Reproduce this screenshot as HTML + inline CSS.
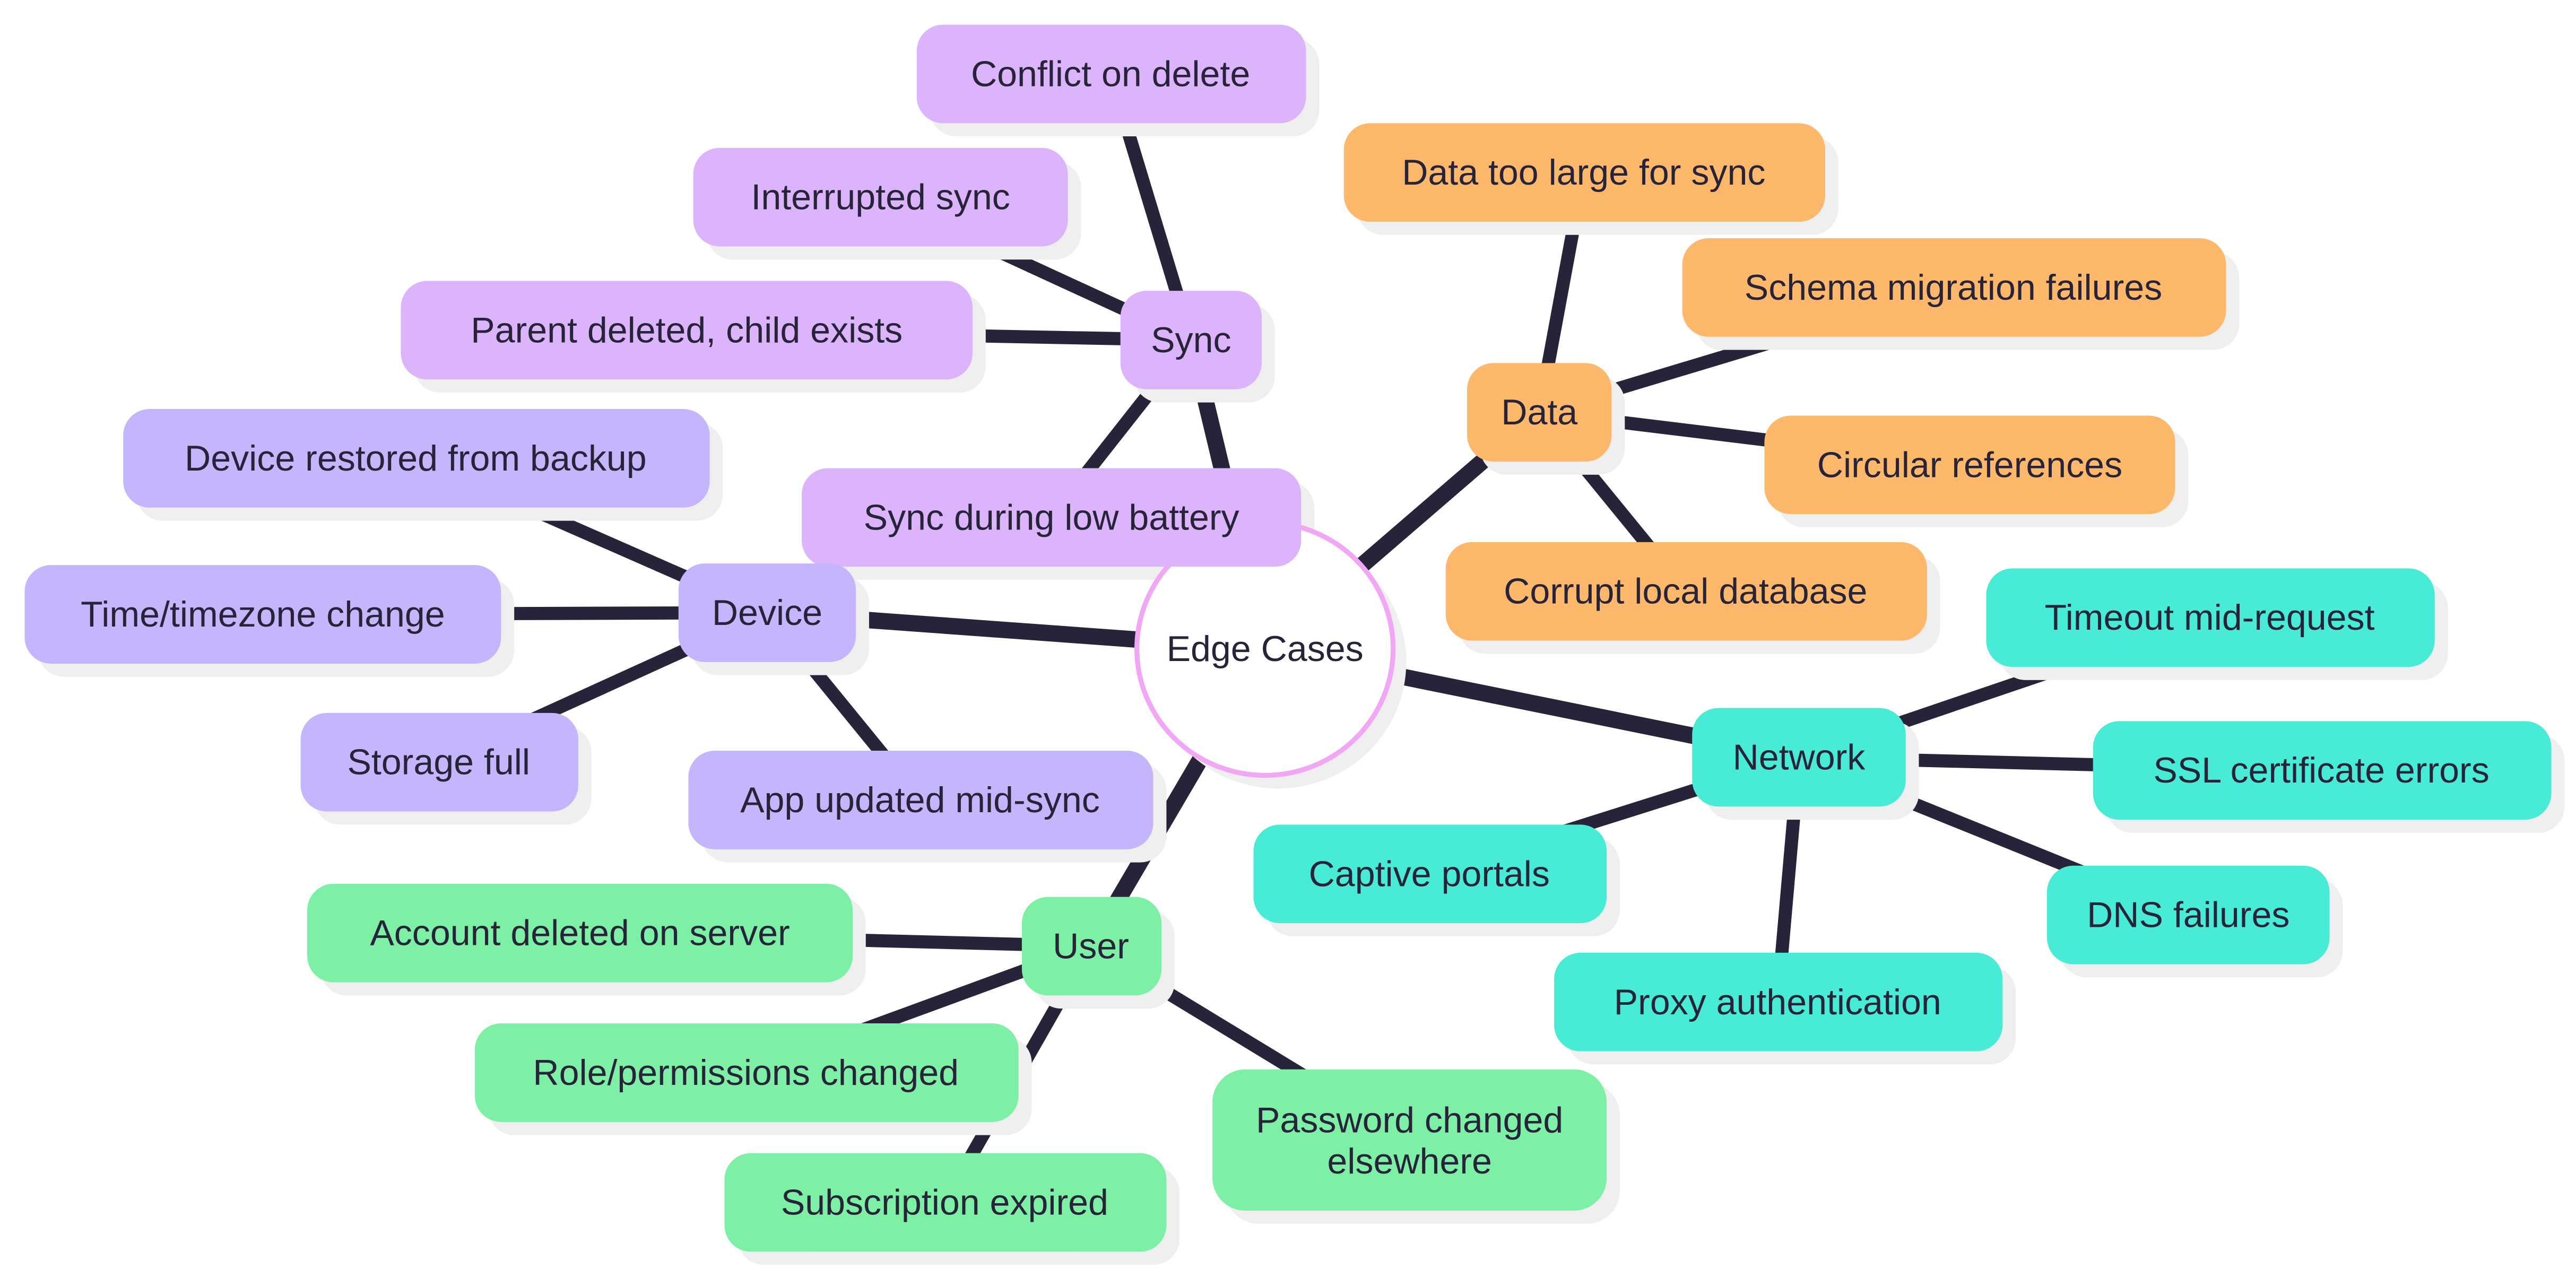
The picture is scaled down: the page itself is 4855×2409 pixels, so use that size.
<!DOCTYPE html>
<html><head><meta charset="utf-8"><style>
html,body{margin:0;padding:0;background:#fff;}
svg{display:block;}
text{font-family:"Liberation Sans",sans-serif;font-size:22px;fill:#272338;text-anchor:middle;dominant-baseline:central;}
</style></head><body>
<svg width="4855" height="2409" viewBox="0 0 1568 778" xmlns="http://www.w3.org/2000/svg">
<rect width="1568" height="778" fill="#fff"/>
<g stroke="#272338" stroke-linecap="butt">
<g stroke-width="10">
<line x1="770" y1="395" x2="725" y2="207"/>
<line x1="770" y1="395" x2="937" y2="251"/>
<line x1="770" y1="395" x2="467" y2="373"/>
<line x1="770" y1="395" x2="1095" y2="461"/>
<line x1="770" y1="395" x2="664" y2="576"/>
</g>
<g stroke-width="8">
<line x1="725" y1="207" x2="676" y2="45"/>
<line x1="725" y1="207" x2="536" y2="120"/>
<line x1="725" y1="207" x2="418" y2="201"/>
<line x1="725" y1="207" x2="640" y2="315"/>
<line x1="937" y1="251" x2="964" y2="105"/>
<line x1="937" y1="251" x2="1189" y2="175"/>
<line x1="937" y1="251" x2="1199" y2="283"/>
<line x1="937" y1="251" x2="1026" y2="360"/>
<line x1="467" y1="373" x2="253" y2="279"/>
<line x1="467" y1="373" x2="160" y2="374"/>
<line x1="467" y1="373" x2="267" y2="464"/>
<line x1="467" y1="373" x2="560" y2="487"/>
<line x1="1095" y1="461" x2="1345" y2="376"/>
<line x1="1095" y1="461" x2="1413" y2="469"/>
<line x1="1095" y1="461" x2="1332" y2="557"/>
<line x1="1095" y1="461" x2="1082" y2="610"/>
<line x1="1095" y1="461" x2="870" y2="532"/>
<line x1="664" y1="576" x2="353" y2="568"/>
<line x1="664" y1="576" x2="454" y2="653"/>
<line x1="664" y1="576" x2="575" y2="732"/>
<line x1="664" y1="576" x2="858" y2="694"/>
</g>
</g>
<!-- shadows -->
<g fill="#efefef">
<ellipse cx="778" cy="403" rx="78" ry="77"/>
<rect x="690" y="185" width="86" height="60" rx="16"/>
<rect x="566" y="23" width="237" height="60" rx="16"/>
<rect x="430" y="98" width="228" height="60" rx="16"/>
<rect x="252" y="179" width="348" height="60" rx="16"/>
<rect x="496" y="293" width="304" height="60" rx="16"/>
<rect x="421" y="351" width="108" height="60" rx="16"/>
<rect x="83" y="257" width="357" height="60" rx="16"/>
<rect x="23" y="352" width="290" height="60" rx="16"/>
<rect x="191" y="442" width="169" height="60" rx="16"/>
<rect x="427" y="465" width="283" height="60" rx="16"/>
<rect x="901" y="229" width="88" height="60" rx="16"/>
<rect x="826" y="83" width="293" height="60" rx="16"/>
<rect x="1032" y="153" width="331" height="60" rx="16"/>
<rect x="1082" y="261" width="250" height="60" rx="16"/>
<rect x="888" y="338" width="293" height="60" rx="16"/>
<rect x="1038" y="439" width="130" height="60" rx="16"/>
<rect x="1217" y="354" width="273" height="60" rx="16"/>
<rect x="1282" y="447" width="279" height="60" rx="16"/>
<rect x="1254" y="535" width="172" height="60" rx="16"/>
<rect x="954" y="588" width="273" height="60" rx="16"/>
<rect x="771" y="510" width="215" height="60" rx="16"/>
<rect x="630" y="554" width="85" height="60" rx="16"/>
<rect x="195" y="546" width="332" height="60" rx="16"/>
<rect x="297" y="631" width="331" height="60" rx="16"/>
<rect x="449" y="710" width="269" height="60" rx="16"/>
<rect x="746" y="659" width="240" height="86" rx="20"/>
</g>
<ellipse cx="770" cy="395" rx="78" ry="77" fill="#fff" stroke="#f0a8f5" stroke-width="3"/>
<text x="770" y="395">Edge Cases</text>
<g fill="#dcb4fb">
<rect x="682" y="177" width="86" height="60" rx="16"/>
<rect x="558" y="15" width="237" height="60" rx="16"/>
<rect x="422" y="90" width="228" height="60" rx="16"/>
<rect x="244" y="171" width="348" height="60" rx="16"/>
<rect x="488" y="285" width="304" height="60" rx="16"/>
</g>
<g fill="#c4b5fd">
<rect x="413" y="343" width="108" height="60" rx="16"/>
<rect x="75" y="249" width="357" height="60" rx="16"/>
<rect x="15" y="344" width="290" height="60" rx="16"/>
<rect x="183" y="434" width="169" height="60" rx="16"/>
<rect x="419" y="457" width="283" height="60" rx="16"/>
</g>
<g fill="#fdb86b">
<rect x="893" y="221" width="88" height="60" rx="16"/>
<rect x="818" y="75" width="293" height="60" rx="16"/>
<rect x="1024" y="145" width="331" height="60" rx="16"/>
<rect x="1074" y="253" width="250" height="60" rx="16"/>
<rect x="880" y="330" width="293" height="60" rx="16"/>
</g>
<g fill="#48ebd5">
<rect x="1030" y="431" width="130" height="60" rx="16"/>
<rect x="1209" y="346" width="273" height="60" rx="16"/>
<rect x="1274" y="439" width="279" height="60" rx="16"/>
<rect x="1246" y="527" width="172" height="60" rx="16"/>
<rect x="946" y="580" width="273" height="60" rx="16"/>
<rect x="763" y="502" width="215" height="60" rx="16"/>
</g>
<g fill="#7df0a6">
<rect x="622" y="546" width="85" height="60" rx="16"/>
<rect x="187" y="538" width="332" height="60" rx="16"/>
<rect x="289" y="623" width="331" height="60" rx="16"/>
<rect x="441" y="702" width="269" height="60" rx="16"/>
<rect x="738" y="651" width="240" height="86" rx="20"/>
</g>
<text x="725" y="207">Sync</text>
<text x="676" y="45">Conflict on delete</text>
<text x="536" y="120">Interrupted sync</text>
<text x="418" y="201">Parent deleted, child exists</text>
<text x="640" y="315">Sync during low battery</text>
<text x="467" y="373">Device</text>
<text x="253" y="279">Device restored from backup</text>
<text x="160" y="374">Time/timezone change</text>
<text x="267" y="464">Storage full</text>
<text x="560" y="487">App updated mid-sync</text>
<text x="937" y="251">Data</text>
<text x="964" y="105">Data too large for sync</text>
<text x="1189" y="175">Schema migration failures</text>
<text x="1199" y="283">Circular references</text>
<text x="1026" y="360">Corrupt local database</text>
<text x="1095" y="461">Network</text>
<text x="1345" y="376">Timeout mid-request</text>
<text x="1413" y="469">SSL certificate errors</text>
<text x="1332" y="557">DNS failures</text>
<text x="1082" y="610">Proxy authentication</text>
<text x="870" y="532">Captive portals</text>
<text x="664" y="576">User</text>
<text x="353" y="568">Account deleted on server</text>
<text x="454" y="653">Role/permissions changed</text>
<text x="575" y="732">Subscription expired</text>
<text x="858" y="682">Password changed</text>
<text x="858" y="707">elsewhere</text>
</svg>
</body></html>
